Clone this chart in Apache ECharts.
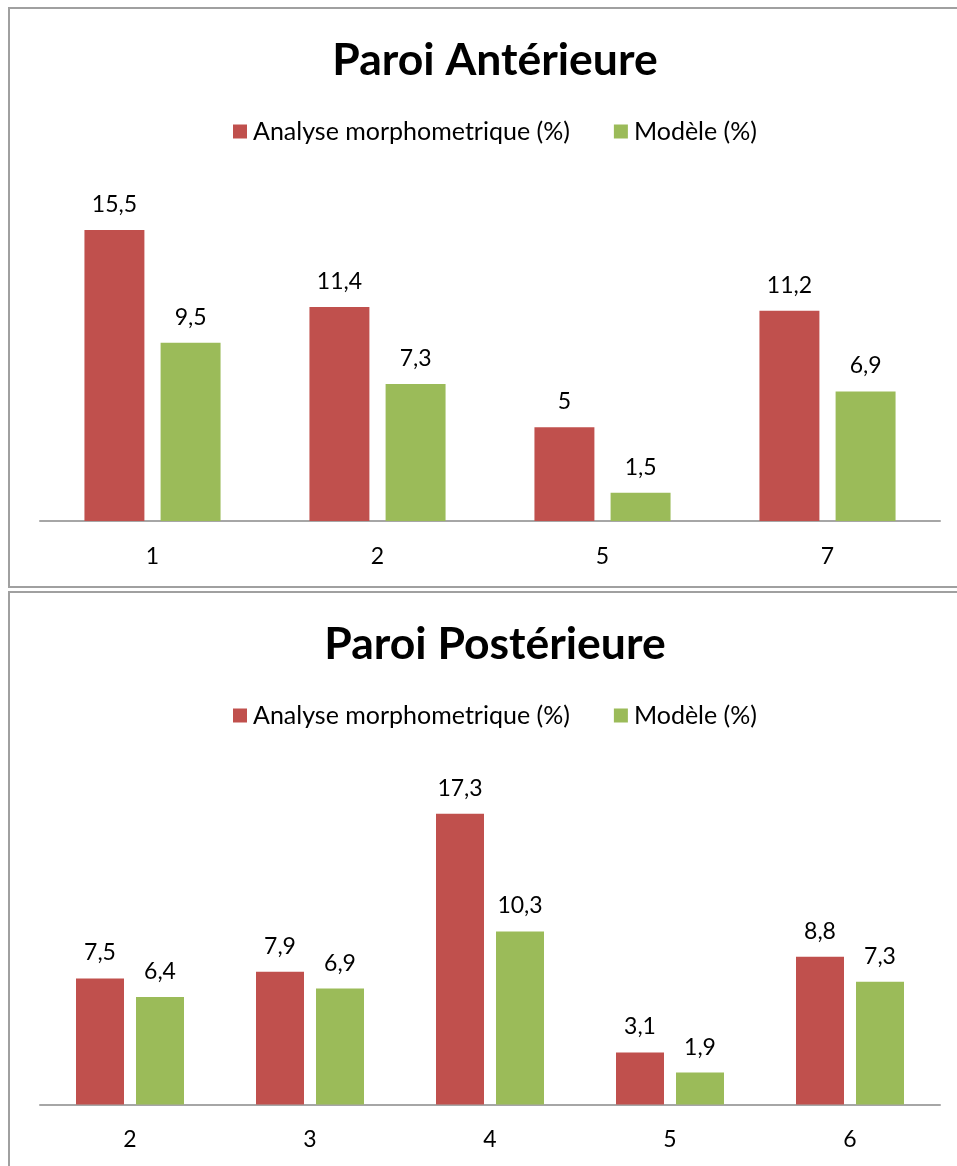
<!DOCTYPE html>
<html>
<head>
<meta charset="utf-8">
<script src="https://cdn.jsdelivr.net/npm/echarts@6/dist/echarts.min.js"></script>
<style>
  html, body { margin: 0; padding: 0; background: #ffffff; }
  #chart { width: 957px; height: 1166px; }
</style>
</head>
<body>
<div id="chart"></div>
<script>
// Paroi antérieure
const antTitle = 'Paroi Antérieure';
const antCategories = ['1', '2', '5', '7'];
const antAnalyse = [15.5, 11.4, 5, 11.2];
const antModele = [9.5, 7.3, 1.5, 6.9];

// Paroi postérieure
const postTitle = 'Paroi Postérieure';
const postCategories = ['2', '3', '4', '5', '6'];
const postAnalyse = [7.5, 7.9, 17.3, 3.1, 8.8];
const postModele = [6.4, 6.9, 10.3, 1.9, 7.3];

const seriesNames = ['Analyse morphometrique (%)', 'Modèle (%)'];
const RED = '#C0504D';
const GREEN = '#9BBB59';
const FONT = 'Lato';

const fmt = p => String(p.value).replace('.', ',');

const labelStyle = {
  show: true,
  position: 'top',
  distance: 14,
  color: '#000',
  fontFamily: FONT,
  fontSize: 23,
  formatter: fmt
};

function bar(name, color, data, idx, barGap, catGap) {
  return {
    type: 'bar',
    name: name,
    xAxisIndex: idx,
    yAxisIndex: idx,
    data: data,
    barGap: barGap,
    barCategoryGap: catGap,
    itemStyle: { color: color },
    label: labelStyle,
    emphasis: { disabled: true }
  };
}

function xAxis(idx, cats) {
  return {
    type: 'category',
    gridIndex: idx,
    data: cats,
    axisLine: { lineStyle: { color: '#a6a6a6', width: 2 } },
    axisTick: { show: false },
    axisLabel: { color: '#000', fontFamily: FONT, fontSize: 23, margin: 24 }
  };
}

function yAxis(idx, max) {
  return { type: 'value', gridIndex: idx, min: 0, max: max, show: false, splitLine: { show: false } };
}

function legend(top) {
  return {
    data: seriesNames,
    top: top,
    left: 233,
    padding: 0,
    icon: 'rect',
    itemWidth: 14,
    itemHeight: 14,
    itemGap: 44,
    textStyle: { color: '#000', fontFamily: FONT, fontSize: 25, padding: [0, 0, 0, 1] },
    selectedMode: false
  };
}

const chart = echarts.init(document.getElementById('chart'), null, { renderer: 'canvas' });

chart.setOption({
  animation: false,
  backgroundColor: '#ffffff',
  title: [
    { text: antTitle, left: 490, textAlign: 'center', top: 33,
      textStyle: { color: '#000', fontFamily: FONT, fontWeight: 'bold', fontSize: 44.5 } },
    { text: postTitle, left: 490, textAlign: 'center', top: 617,
      textStyle: { color: '#000', fontFamily: FONT, fontWeight: 'bold', fontSize: 44.5 } }
  ],
  legend: [legend(119), legend(703)],
  grid: [
    { left: 40, width: 900, top: 183.1, height: 337.9 },
    { left: 40, width: 900, top: 768.5, height: 336 }
  ],
  xAxis: [xAxis(0, antCategories), xAxis(1, postCategories)],
  yAxis: [yAxis(0, 18), yAxis(1, 20)],
  series: [
    bar(seriesNames[0], RED, antAnalyse, 0, '27%', '39.5%'),
    bar(seriesNames[1], GREEN, antModele, 0, '27%', '39.5%'),
    bar(seriesNames[0], RED, postAnalyse, 1, '25%', '40%'),
    bar(seriesNames[1], GREEN, postModele, 1, '25%', '40%')
  ],
  graphic: [
    { type: 'rect', silent: true, z: -1,
      shape: { x: 9, y: 8, width: 980, height: 579 },
      style: { fill: null, stroke: '#a0a0a0', lineWidth: 2 } },
    { type: 'rect', silent: true, z: -1,
      shape: { x: 9, y: 592, width: 980, height: 600 },
      style: { fill: null, stroke: '#a0a0a0', lineWidth: 2 } }
  ]
});
</script>
</body>
</html>
